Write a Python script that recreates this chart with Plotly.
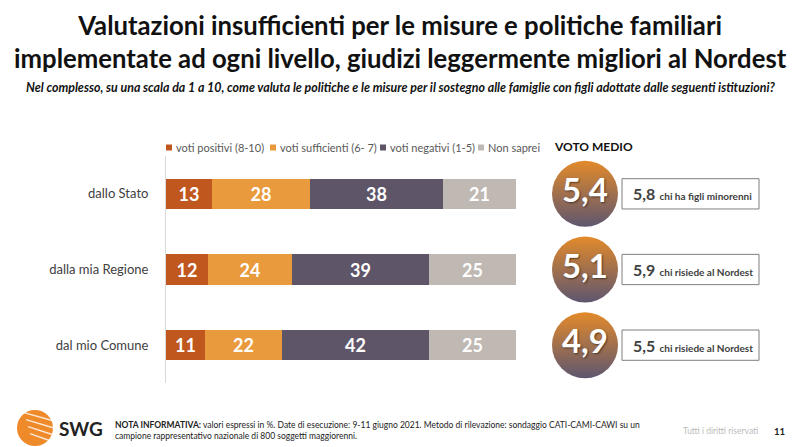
import plotly.graph_objects as go

# ---------------- data ----------------
categories = ["dallo Stato", "dalla mia Regione", "dal mio Comune"]
series_names = ["voti positivi (8-10)", "voti sufficienti (6- 7)", "voti negativi (1-5)", "Non saprei"]
positivi = [13, 12, 11]
sufficienti = [28, 24, 22]
negativi = [38, 39, 42]
non_saprei = [21, 25, 25]
voto_medio = [5.4, 5.1, 4.9]
sub_voto = [5.8, 5.9, 5.5]
sub_label = ["chi ha figli minorenni", "chi risiede al Nordest", "chi risiede al Nordest"]

colors = ["#C0571F", "#E99A3C", "#5F5569", "#BFB8B3"]
legend_px = [166, 270, 380, 478]   # legend swatch positions (layout)
FONT = "Lato"
W, H = 800, 447

rows = list(range(len(categories)))

fig = go.Figure()
for name, vals, col in zip(series_names, [positivi, sufficienti, negativi, non_saprei], colors):
    fig.add_trace(go.Bar(
        name=name, x=vals, y=rows, orientation="h", width=0.4,
        marker=dict(color=col, line=dict(width=0)),
        text=[str(v) for v in vals], textposition="inside", insidetextanchor="middle",
        textfont=dict(family=FONT, size=18, color="white", weight="bold"),
        xaxis="x", yaxis="y", hoverinfo="x+name", showlegend=False,
    ))

def fmt(v):
    return f"{v:.1f}".replace(".", ",")

# average-vote circles
fig.add_trace(go.Scatter(
    x=[585] * len(rows), y=rows, xaxis="x2", yaxis="y", mode="markers+text",
    marker=dict(size=66, color="#E38A2A", line=dict(width=0),
                gradient=dict(type="vertical", color="#5E5670")),
    text=[fmt(v) for v in voto_medio], textposition="middle center",
    textfont=dict(family=FONT, size=33, color="white", weight="bold",
                  shadow="1px 1px 2px rgba(0,0,0,0.5)"),
    showlegend=False, hoverinfo="skip",
))

shapes = []
annotations = []
for r, sv, sl in zip(rows, sub_voto, sub_label):
    shapes.append(dict(type="rect", xref="x2", yref="y", x0=622, x1=759, y0=r - 0.2, y1=r + 0.2,
                       line=dict(color="#7F7F7F", width=1), fillcolor="white", layer="below"))
    annotations.append(dict(xref="x2", yref="y", x=631, y=r, xanchor="left", yanchor="middle",
                            showarrow=False,
                            text=f"<b>{fmt(sv)}</b> <span style='font-size:10px'><b>{sl}</b></span>",
                            font=dict(family=FONT, size=16, color="#404040")))

# manual legend
ly = 1 - 147.5 / H
for name, col, px in zip(series_names, colors, legend_px):
    shapes.append(dict(type="rect", xref="paper", yref="paper",
                       x0=px / W, x1=(px + 6) / W, y0=ly - 3 / H, y1=ly + 3 / H,
                       fillcolor=col, line=dict(width=0)))
    annotations.append(dict(xref="paper", yref="paper", x=(px + 8) / W, y=ly, xanchor="left",
                            yanchor="middle", showarrow=False, text=name,
                            font=dict(family=FONT, size=11, color="#595959")))

# titles
annotations += [
    dict(xref="paper", yref="paper", x=0.5, y=1 - 41 / H, xanchor="center", yanchor="middle",
         showarrow=False,
         text="<b>Valutazioni insufficienti per le misure e politiche familiari<br>implementate ad ogni livello, giudizi leggermente migliori al Nordest</b>",
         font=dict(family=FONT, size=25.7, color="#111111")),
    dict(xref="paper", yref="paper", x=0.5, y=1 - 88 / H, xanchor="center", yanchor="middle",
         showarrow=False,
         text="<i>Nel complesso, su una scala da 1 a 10, come valuta le politiche e le misure per il sostegno alle famiglie con figli adottate dalle seguenti istituzioni?</i>",
         font=dict(family=FONT, size=12.4, color="#111111", weight="bold")),
    dict(xref="paper", yref="paper", x=552 / W, y=1 - 146 / H, xanchor="left", yanchor="middle",
         showarrow=False, text="<b>VOTO MEDIO</b>", font=dict(family=FONT, size=12, color="#111111")),
    # footer
    dict(xref="paper", yref="paper", x=113 / W, y=1 - 430 / H, xanchor="left", yanchor="middle",
         showarrow=False, align="left",
         text="<b>NOTA INFORMATIVA:</b> valori espressi in %. Date di esecuzione: 9-11 giugno 2021. Metodo di rilevazione: sondaggio CATI-CAMI-CAWI su un<br>campione rappresentativo nazionale di 800 soggetti maggiorenni.",
         font=dict(family=FONT, size=8.5, color="#222222")),
    dict(xref="paper", yref="paper", x=760 / W, y=1 - 431 / H, xanchor="right", yanchor="middle",
         showarrow=False, text="Tutti i diritti riservati", font=dict(family=FONT, size=8.5, color="#BBBBBB")),
    dict(xref="paper", yref="paper", x=779 / W, y=1 - 431 / H, xanchor="center", yanchor="middle",
         showarrow=False, text="<b>11</b>", font=dict(family=FONT, size=9.5, color="#222222")),
    dict(xref="paper", yref="paper", x=57 / W, y=1 - 428 / H, xanchor="left", yanchor="middle",
         showarrow=False, text="<b>SWG</b>", font=dict(family=FONT, size=19, color="#222222")),
]

# logo sphere
shapes.append(dict(type="circle", xref="paper", yref="paper",
                   x0=17 / W, x1=53 / W, y0=1 - 446 / H, y1=1 - 410 / H,
                   fillcolor="#EE8A2A", line=dict(width=0), layer="above"))
for k in range(4):
    yy = 1 - (418 + k * 7) / H
    shapes.append(dict(type="line", xref="paper", yref="paper",
                       x0=(24 + k * 2) / W, x1=53 / W, y0=yy + 0.012, y1=yy - 0.006,
                       line=dict(color="rgba(255,255,255,0.8)", width=1.5)))

fig.update_layout(
    width=W, height=H, margin=dict(l=0, r=0, t=0, b=0),
    paper_bgcolor="white", plot_bgcolor="rgba(0,0,0,0)",
    barmode="stack", bargap=0,
    font=dict(family=FONT, color="#404040"),
    xaxis=dict(domain=[166 / W, 516 / W], range=[0, 100], visible=False, fixedrange=True),
    xaxis2=dict(domain=[528 / W, 1.0], range=[528, 800], visible=False, fixedrange=True, anchor="y"),
    yaxis=dict(domain=[1 - 383 / H, 1 - 156 / H], range=[2.5, -0.5],
               tickmode="array", tickvals=rows, ticktext=categories,
               showline=True, linecolor="#D9D9D9", linewidth=1, showgrid=False, zeroline=False,
               ticks="", ticklabelstandoff=14,
               tickfont=dict(family=FONT, size=13, color="#404040"), fixedrange=True),
    shapes=shapes, annotations=annotations, showlegend=False,
)

fig.write_html("out.html")
